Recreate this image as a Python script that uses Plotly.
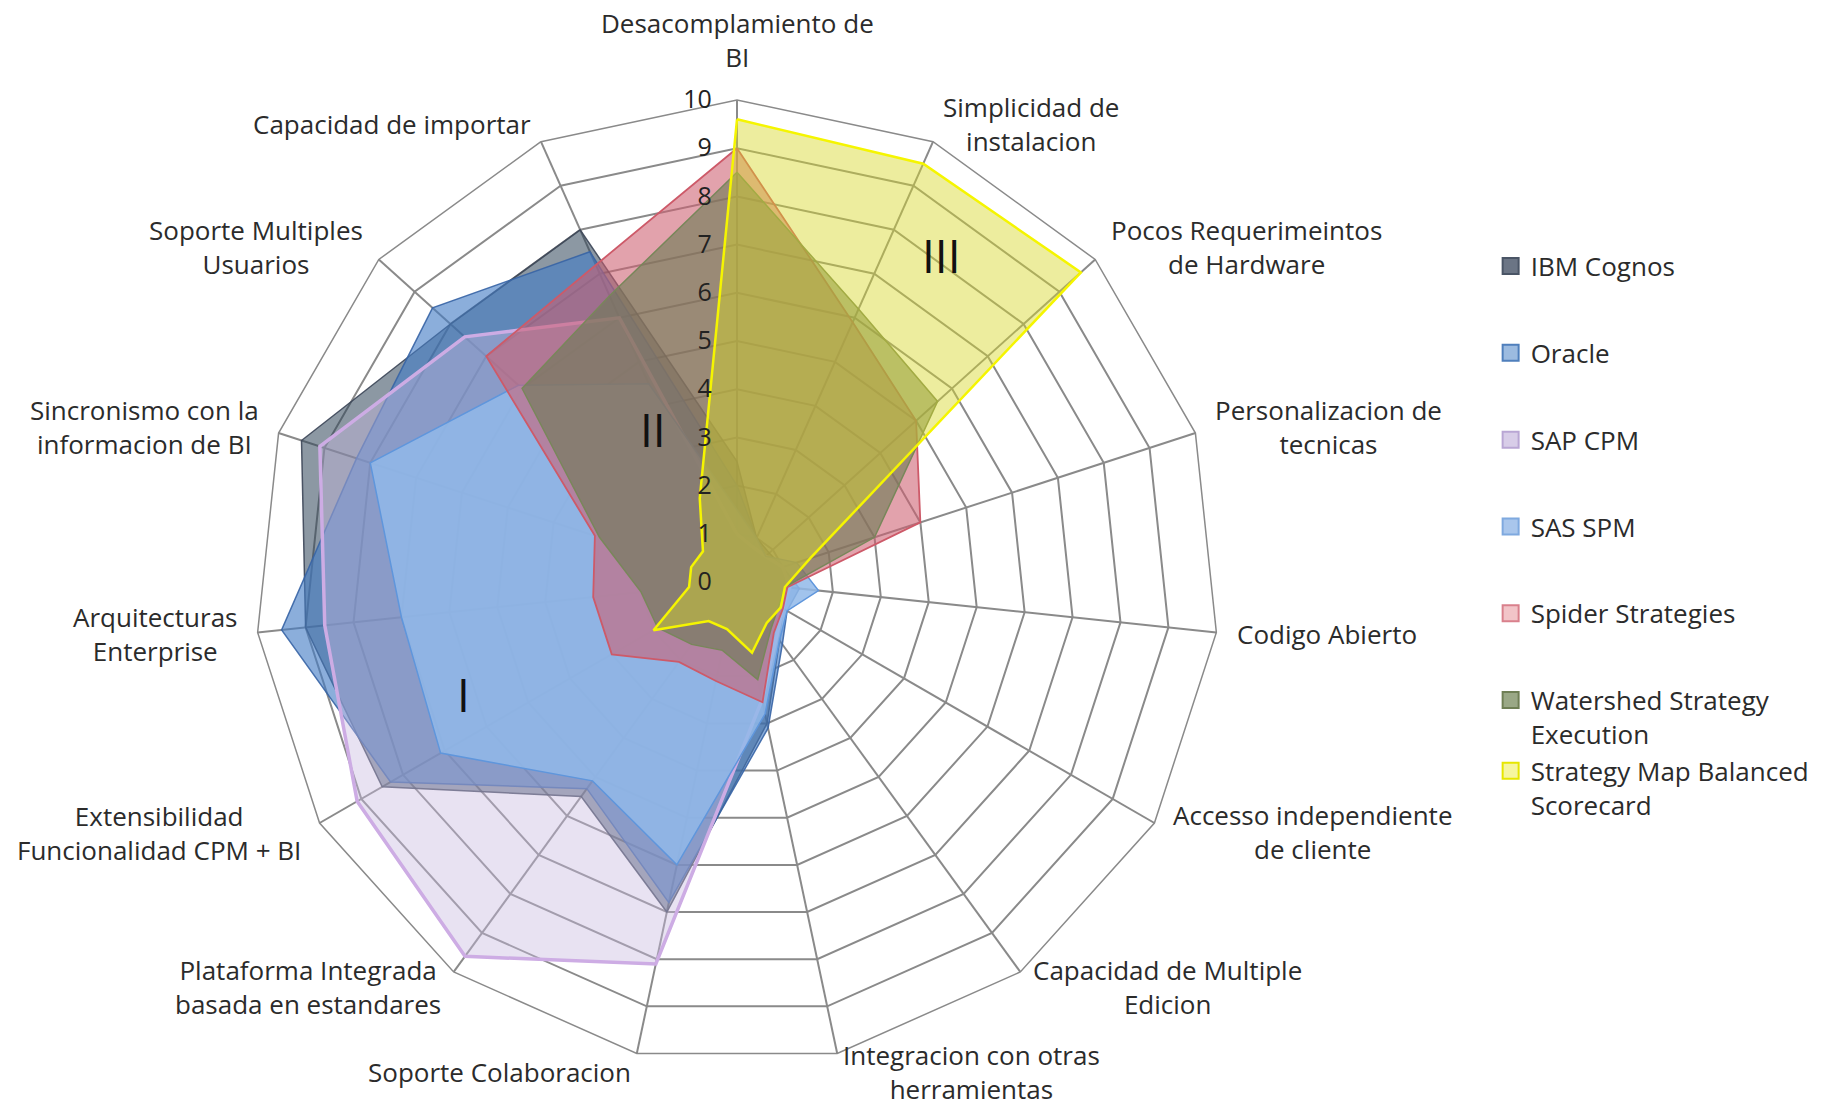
import math
import plotly.graph_objects as go

categories = [
    "Desacomplamiento de<br>BI",
    "Simplicidad de<br>instalacion",
    "Pocos Requerimeintos<br>de Hardware",
    "Personalizacion de<br>tecnicas",
    "Codigo Abierto",
    "Accesso independiente<br>de cliente",
    "Capacidad de Multiple<br>Edicion",
    "Integracion con otras<br>herramientas",
    "Soporte Colaboracion",
    "Plataforma Integrada<br>basada en estandares",
    "Extensibilidad<br>Funcionalidad CPM + BI",
    "Arquitecturas<br>Enterprise",
    "Sincronismo con la<br>informacion de BI",
    "Soporte Multiples<br>Usuarios",
    "Capacidad de importar",
]

series_names = [
    "IBM Cognos",
    "Oracle",
    "SAP CPM",
    "SAS SPM",
    "Spider Strategies",
    "Watershed Strategy<br>Execution",
    "Strategy Map Balanced<br>Scorecard",
]

ibm_cognos = [2.5, 1.0, 0.9, 1.0, 1.0, 1.1, 1.5, 3.0, 7.0, 5.5, 8.5, 9.0, 9.5, 8.0, 8.0]
oracle = [2.0, 1.0, 0.8, 1.0, 1.3, 1.2, 1.6, 3.1, 6.8, 5.3, 8.3, 9.5, 8.3, 8.5, 7.5]
sap_cpm = [1.0, 0.8, 0.8, 1.0, 1.1, 1.1, 1.4, 2.5, 8.1, 9.6, 9.1, 8.6, 9.1, 7.6, 6.0]
sas_spm = [1.5, 1.0, 0.8, 1.3, 1.7, 1.2, 1.5, 2.8, 6.0, 5.1, 7.1, 7.0, 8.0, 6.1, 4.5]
spider = [9.0, 5.9, 5.0, 4.0, 1.05, 1.1, 1.3, 2.55, 2.1, 2.05, 3.0, 3.0, 3.1, 7.0, 7.2]
watershed = [8.5, 6.2, 5.6, 3.0, 1.0, 1.0, 1.2, 2.07, 1.45, 1.6, 1.9, 2.0, 3.0, 6.0, 6.5]
strategy_map = [9.6, 9.5, 9.6, 1.6, 1.0, 1.05, 1.05, 1.5, 1.0, 1.0, 2.0, 1.0, 1.0, 0.95, 1.9]

radial_ticks = list(range(0, 11))

all_values = [ibm_cognos, oracle, sap_cpm, sas_spm, spider, watershed, strategy_map]

fill_colors = [
    "rgba(45,67,87,0.55)",
    "rgba(68,124,197,0.62)",
    "rgba(199,184,223,0.41)",
    "rgba(144,185,233,0.85)",
    "rgba(205,95,112,0.58)",
    "rgba(110,122,85,0.62)",
    "rgba(215,215,40,0.45)",
]
line_colors = [
    "rgba(60,70,88,0.9)",
    "rgba(55,100,165,0.9)",
    "rgba(205,172,228,1)",
    "rgba(95,150,220,1)",
    "rgba(205,90,105,1)",
    "rgba(120,135,90,1)",
    "rgba(245,245,0,1)",
]
swatch_colors = ["#6b7585", "#9cbbe0", "#d8cde8", "#a9c6ec", "#f2c4c8", "#9aa886", "#f6f6a0"]
swatch_borders = ["#4a5566", "#4f7fbc", "#b9a6d4", "#7fa9df", "#d9808c", "#6f7f55", "#e6e600"]
line_widths = [1.5, 1.5, 3.5, 1.5, 1.8, 1.5, 2.5]
legend_groups = ["g0", "g1", "g2", "g3", "g4", "g5", "g5"]

fig = go.Figure()
for i, (name, vals) in enumerate(zip(series_names, all_values)):
    fig.add_trace(go.Scatterpolar(
        r=vals + [vals[0]],
        theta=categories + [categories[0]],
        name=name,
        mode="lines",
        fill="toself",
        fillcolor=fill_colors[i],
        line=dict(color=line_colors[i], width=line_widths[i]),
        showlegend=False,
        hoverinfo="skip",
    ))

# legend entries with square swatches (no visible data)
for i, name in enumerate(series_names):
    fig.add_trace(go.Scatterpolar(
        r=[None], theta=[categories[0]],
        name=name,
        mode="markers",
        marker=dict(symbol="square", size=18, color=swatch_colors[i],
                    line=dict(color=swatch_borders[i], width=2)),
        legendgroup=legend_groups[i],
        showlegend=True,
        hoverinfo="skip",
    ))

font_family = "Open Sans, Lato, DejaVu Sans, sans-serif"
text_color = "#2b2b2b"

# polar geometry (paper fractions)
W, H = 1829, 1108
cx_px, cy_px, R_px = 737, 582, 482
dom_x = [(cx_px - R_px) / W, (cx_px + R_px) / W]
dom_y = [(H - cy_px - R_px) / H, (H - cy_px + R_px) / H]

# category labels placed just outside the outer ring, centred lines as in the original
annotations = []
n = len(categories)
label_r = R_px + 19
for i, cat in enumerate(categories):
    ang = math.radians(360.0 * i / n)
    s, c = math.sin(ang), math.cos(ang)
    x = (cx_px + label_r * s) / W
    y = (H - cy_px + label_r * c) / H
    if abs(s) < 0.05:
        xa, ya = "center", ("bottom" if c > 0 else "top")
        y += 4 / H
    else:
        xa, ya = ("left" if s > 0 else "right"), "middle"
    annotations.append(dict(
        text=cat, x=x, y=y, xref="paper", yref="paper", showarrow=False,
        xanchor=xa, yanchor=ya, align="center",
        font=dict(size=26, color=text_color, family=font_family),
    ))

for txt, xp, yp in [("I", 463, 694), ("II", 653, 429), ("III", 942, 255)]:
    annotations.append(dict(
        text=txt, x=xp / W, y=1 - yp / H, xref="paper", yref="paper",
        showarrow=False, xanchor="center", yanchor="middle",
        font=dict(size=46, color="#111111", family=font_family),
    ))

fig.update_layout(
    width=W,
    height=H,
    margin=dict(l=0, r=0, t=0, b=0),
    paper_bgcolor="white",
    plot_bgcolor="white",
    font=dict(family=font_family, size=26, color=text_color),
    polar=dict(
        domain=dict(x=dom_x, y=dom_y),
        bgcolor="white",
        gridshape="linear",
        angularaxis=dict(
            rotation=90,
            direction="clockwise",
            type="category",
            categoryarray=categories,
            showline=True,
            linecolor="#8a8a8a",
            linewidth=1.5,
            gridcolor="#8a8a8a",
            gridwidth=1.5,
            showticklabels=False,
            ticks="",
        ),
        radialaxis=dict(
            range=[0, 10],
            tickvals=radial_ticks,
            angle=90,
            side="counterclockwise",
            showline=False,
            gridcolor="#8a8a8a",
            gridwidth=1.5,
            ticks="outside",
            ticklen=16,
            tickcolor="rgba(0,0,0,0)",
            tickangle=90,
            tickfont=dict(size=25, color="#222222"),
        ),
    ),
    legend=dict(
        x=0.815,
        y=0.781,
        xanchor="left",
        yanchor="top",
        font=dict(size=26, color=text_color),
        tracegroupgap=50,
        itemwidth=30,
        valign="top",
        bgcolor="rgba(0,0,0,0)",
    ),
    annotations=annotations,
)

fig.write_html("out.html")
